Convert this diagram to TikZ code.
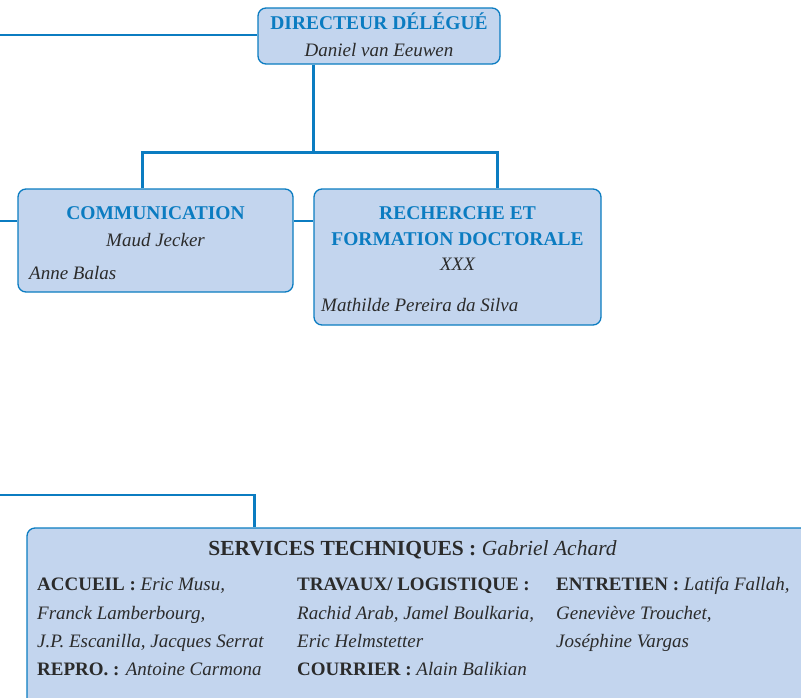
\documentclass[tikz,border=0pt]{standalone}
\usepackage{fontspec}
\setmainfont{Liberation Serif}
\usetikzlibrary{positioning}

\definecolor{orgblue}{HTML}{0B7CC1}
\definecolor{orgfill}{HTML}{C3D5EE}
\definecolor{orgtext}{HTML}{2B2B2B}

\tikzset{
  box/.style={draw=orgblue, fill=orgfill, line width=1.3pt, rounded corners=8pt, inner sep=0pt},
  link/.style={draw=orgblue, line width=2.6pt},
  title/.style={font=\fontsize{19.5}{25}\selectfont\bfseries, text=orgblue, inner sep=0pt},
  who/.style={font=\fontsize{19}{25}\selectfont\itshape, text=orgtext, inner sep=0pt},
  unit/.style={font=\fontsize{19}{25}\selectfont, text=orgtext, inner sep=0pt, anchor=base west}
}

\begin{document}
\begin{tikzpicture}[x=1pt,y=-1pt]
\useasboundingbox (0,0) rectangle (801,697);
\clip (0,0) rectangle (801,697);

% Boxes
\node[box, minimum width=242pt, minimum height=56pt] (dir) at (379,36) {};
\node[box, minimum width=275pt, minimum height=103pt] (comm) at (155.5,240.5) {};
\node[box, minimum width=287pt, minimum height=136pt] (rech) at (457.5,257) {};
\node[box, minimum width=803pt, minimum height=202pt] (tech) at (428.5,629) {};

% Connectors
\coordinate (dirin) at (0,35);
\coordinate (commin) at (0,221);
\coordinate (techin) at (0,495);
\draw[link] (dirin) -- (dirin -| dir.west);
\draw[link] ([xshift=56pt]dir.south west) -- ++(0,88) coordinate (fork);
\draw[link] ([xshift=125pt]comm.north west) |- (fork) -| ([xshift=184pt]rech.north west);
\draw[link] (commin) -- (commin -| comm.west);
\draw[link] (commin -| comm.east) -- (commin -| rech.west);
\draw[link] (techin) -| ([xshift=228pt]tech.north west);

% Directeur
\node[title, anchor=base] (dirtitle) at (379,29.5) {DIRECTEUR DÉLÉGUÉ};
\node[who, anchor=base] (dirname) at (379,56) {Daniel van Eeuwen};

% Communication
\node[title, anchor=base] (commtitle) at (155.5,219) {COMMUNICATION};
\node[who, anchor=base] (commname) at (155.5,246) {Maud Jecker};
\node[who, anchor=base west] (commstaff) at (29,279) {Anne Balas};

% Recherche
\node[title, anchor=base] (rechtitle) at (457.5,219) {RECHERCHE ET};
\node[title, anchor=base] (rechtitleb) at (457.5,245) {FORMATION DOCTORALE};
\node[who, anchor=base] (rechname) at (457.5,270) {XXX};
\node[who, anchor=base west] (rechstaff) at (321,311) {Mathilde Pereira da Silva};

% Services techniques
\node[font=\fontsize{21.5}{26}\selectfont, text=orgtext, inner sep=0pt, anchor=base] (techtitle) at (412.5,555)
  {\textbf{SERVICES TECHNIQUES :} \textit{Gabriel Achard}};

\node[unit] (acc1) at (37,590) {\textbf{ACCUEIL :} \textit{Eric Musu,}};
\node[unit] (acc2) at (37,619) {\textit{Franck Lamberbourg,}};
\node[unit] (acc3) at (37,647) {\textit{J.P. Escanilla, Jacques Serrat}};
\node[unit] (repro) at (37,675) {\textbf{REPRO. :} \textit{Antoine Carmona}};

\node[unit] (trav1) at (297,590) {\textbf{TRAVAUX/ LOGISTIQUE :}};
\node[unit] (trav2) at (297,619) {\textit{Rachid Arab, Jamel Boulkaria,}};
\node[unit] (trav3) at (297,647) {\textit{Eric Helmstetter}};
\node[unit] (cour) at (297,675) {\textbf{COURRIER :} \textit{Alain Balikian}};

\node[unit] (ent1) at (556,590) {\textbf{ENTRETIEN :} \textit{Latifa Fallah,}};
\node[unit] (ent2) at (556,619) {\textit{Geneviève Trouchet,}};
\node[unit] (ent3) at (556,647) {\textit{Joséphine Vargas}};
\end{tikzpicture}
\end{document}
